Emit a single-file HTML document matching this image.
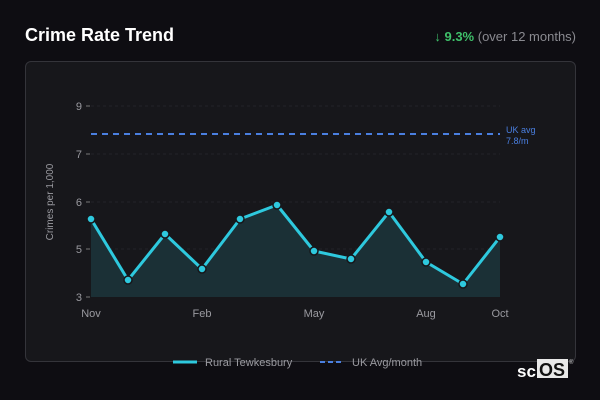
<!DOCTYPE html>
<html><head><style>
body{margin:0;width:600px;height:400px;background:#0e0d12;font-family:"Liberation Sans",sans-serif;overflow:hidden;position:relative}
.t{position:absolute;left:25px;top:25px;color:#fff;font-weight:bold;font-size:18px}
.c{position:absolute;right:24px;top:29px;font-size:13px;color:#8a8a90}
.c b{color:#3fc06a}
.p{position:absolute;left:25px;top:61px;width:549px;height:299px;border:1px solid #34343a;border-radius:6px;background:#17171b}
</style></head><body>
<div class="t">Crime Rate Trend</div>
<div class="c"><b>↓ 9.3%</b> (over 12 months)</div>
<div class="p"></div>
<svg width="600" height="400" style="position:absolute;left:0;top:0" font-family="Liberation Sans, sans-serif">
<g stroke="#232328" stroke-dasharray="3,3">
<line x1="91" x2="500" y1="106" y2="106"/><line x1="91" x2="500" y1="154" y2="154"/><line x1="91" x2="500" y1="202" y2="202"/><line x1="91" x2="500" y1="249" y2="249"/>
</g>
<g stroke="#777" ><line x1="86" x2="90" y1="106" y2="106"/><line x1="86" x2="90" y1="154" y2="154"/><line x1="86" x2="90" y1="202" y2="202"/><line x1="86" x2="90" y1="249" y2="249"/><line x1="86" x2="90" y1="297" y2="297"/></g>
<g fill="#9a9aa0" font-size="11" text-anchor="end"><text x="82" y="110">9</text><text x="82" y="158">7</text><text x="82" y="206">6</text><text x="82" y="253">5</text><text x="82" y="301">3</text></g>
<g fill="#9a9aa0" font-size="11" text-anchor="middle"><text x="91" y="317">Nov</text><text x="202" y="317">Feb</text><text x="314" y="317">May</text><text x="426" y="317">Aug</text><text x="500" y="317">Oct</text></g>
<text transform="translate(53,202) rotate(-90)" fill="#9a9aa0" font-size="10" text-anchor="middle">Crimes per 1,000</text>
<line x1="91" x2="500" y1="134" y2="134" stroke="#4a7fe0" stroke-width="2" stroke-dasharray="6,5"/>
<text x="506" y="133" fill="#4a7fe0" font-size="9">UK avg</text><text x="506" y="144" fill="#4a7fe0" font-size="9">7.8/m</text>
<polygon fill="#1b3036" points="91,297 91,219 128,280 165,234 202,269 240,219 277,205 314,251 351,259 389,212 426,262 463,284 500,237 500,297"/>
<polyline fill="none" stroke="#2ec9de" stroke-width="3" stroke-linejoin="round" points="91,219 128,280 165,234 202,269 240,219 277,205 314,251 351,259 389,212 426,262 463,284 500,237"/>
<g fill="#2ec9de" stroke="#17171b" stroke-width="1.5">
<circle cx="91" cy="219" r="4"/><circle cx="128" cy="280" r="4"/><circle cx="165" cy="234" r="4"/><circle cx="202" cy="269" r="4"/><circle cx="240" cy="219" r="4"/><circle cx="277" cy="205" r="4"/><circle cx="314" cy="251" r="4"/><circle cx="351" cy="259" r="4"/><circle cx="389" cy="212" r="4"/><circle cx="426" cy="262" r="4"/><circle cx="463" cy="284" r="4"/><circle cx="500" cy="237" r="4"/></g>
<line x1="173" x2="197" y1="362" y2="362" stroke="#2ec9de" stroke-width="3"/>
<text x="205" y="366" fill="#9a9aa0" font-size="11">Rural Tewkesbury</text>
<line x1="320" x2="344" y1="362" y2="362" stroke="#4a7fe0" stroke-width="2" stroke-dasharray="5,3"/>
<text x="352" y="366" fill="#9a9aa0" font-size="11">UK Avg/month</text>
<text x="517" y="377" fill="#fff" font-size="17" font-weight="bold">sc</text>
<rect x="537" y="359" width="31" height="19" fill="#e8e8e8"/>
<text x="539" y="376" fill="#111" font-size="18" font-weight="bold">OS</text>
<text x="569" y="364" fill="#ccc" font-size="6">®</text>
</svg>
</body></html>
